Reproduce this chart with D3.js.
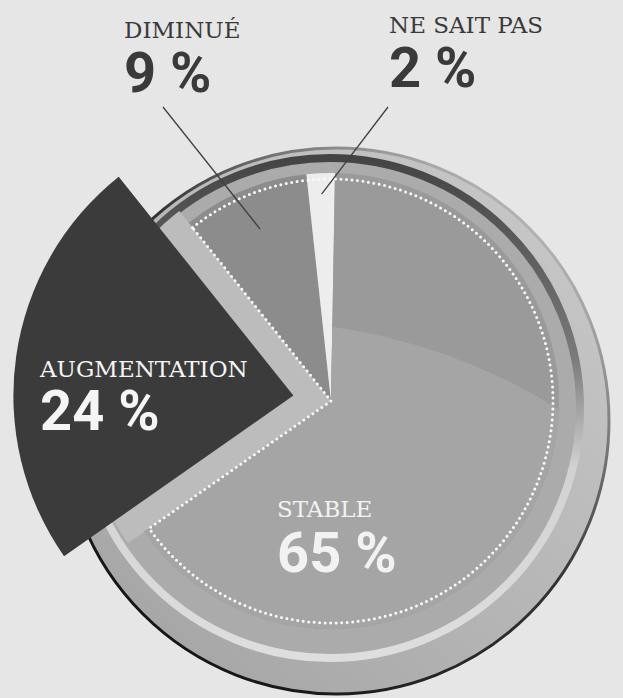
<!DOCTYPE html>
<html>
<head>
<meta charset="utf-8">
<script src="https://cdn.jsdelivr.net/npm/d3@7"></script>
<style>
  html, body { margin: 0; padding: 0; background: #e6e6e6; }
  svg { display: block; }
</style>
</head>
<body>
<div id="chart"></div>
<script>
// données du sondage
const categories  = ["STABLE", "AUGMENTATION", "DIMINUÉ", "NE SAIT PAS"];
const values      = [65, 24, 9, 2];
const valueLabels = ["65 %", "24 %", "9 %", "2 %"];

const width = 623, height = 698;
const cx = 331, cy = 401;     // centre du camembert
const r  = 228;
const deg = a => a * Math.PI / 180;

const color = d3.scaleOrdinal()
  .domain(categories)
  .range(["#a4a4a4", "#3b3b3b", "#8c8c8c", "#ededed"]);

const data = categories.map((c, i) => ({ name: c, value: values[i], label: valueLabels[i] }));

const pie = d3.pie()
  .sort(null)
  .value(d => d.value)
  .startAngle(deg(1))
  .endAngle(deg(361));
const slices = pie(data);
const byName = Object.fromEntries(slices.map(s => [s.data.name, s]));

const svg = d3.select("#chart").append("svg")
  .attr("width", width)
  .attr("height", height)
  .attr("viewBox", [0, 0, width, height]);

svg.append("rect").attr("width", width).attr("height", height).attr("fill", "#e6e6e6");

const defs = svg.append("defs");

// contour du disque extérieur : noir en bas à gauche, clair en haut à droite
const gOuter = defs.append("linearGradient").attr("id", "outerStroke")
  .attr("gradientUnits", "userSpaceOnUse")
  .attr("x1", 120).attr("y1", 660).attr("x2", 560).attr("y2", 180);
gOuter.append("stop").attr("offset", 0).attr("stop-color", "#111");
gOuter.append("stop").attr("offset", 0.55).attr("stop-color", "#333");
gOuter.append("stop").attr("offset", 1).attr("stop-color", "#cfcfcf");

const gOuterFill = defs.append("linearGradient").attr("id", "outerFill")
  .attr("gradientUnits", "userSpaceOnUse")
  .attr("x1", 150).attr("y1", 650).attr("x2", 580).attr("y2", 200);
gOuterFill.append("stop").attr("offset", 0).attr("stop-color", "#a6a6a6");
gOuterFill.append("stop").attr("offset", 1).attr("stop-color", "#c8c8c8");

// bord du socle : sombre en haut, clair en bas
const gBase = defs.append("linearGradient").attr("id", "baseStroke")
  .attr("gradientUnits", "userSpaceOnUse")
  .attr("x1", 0).attr("y1", 158).attr("x2", 0).attr("y2", 658);
gBase.append("stop").attr("offset", 0).attr("stop-color", "#444");
gBase.append("stop").attr("offset", 0.4).attr("stop-color", "#7a7a7a");
gBase.append("stop").attr("offset", 0.62).attr("stop-color", "#d2d2d2");
gBase.append("stop").attr("offset", 1).attr("stop-color", "#dedede");

// disque extérieur
svg.append("circle")
  .attr("cx", 336).attr("cy", 421).attr("r", 273)
  .attr("fill", "url(#outerFill)")
  .attr("stroke", "url(#outerStroke)")
  .attr("stroke-width", 3);

// socle du camembert
defs.append("clipPath").attr("id", "baseClip")
  .append("circle").attr("cx", 330).attr("cy", 408).attr("r", 248);

svg.append("circle")
  .attr("cx", 330).attr("cy", 408).attr("r", 250)
  .attr("fill", "#ababab")
  .attr("stroke", "url(#baseStroke)")
  .attr("stroke-width", 8);

// emplacement vide de la part détachée (sous tout le reste)
const aug = byName["AUGMENTATION"];
svg.append("g").attr("clip-path", "url(#baseClip)")
  .append("path")
  .attr("transform", `translate(${cx},${cy})`)
  .attr("d", d3.arc().innerRadius(0).outerRadius(r + 20)(aug))
  .attr("fill", "#bcbcbc");

const g = svg.append("g").attr("transform", `translate(${cx},${cy})`);

const arc = d3.arc().innerRadius(0).outerRadius(r);

// parts restantes
g.selectAll("path.slice")
  .data(slices.filter(s => s.data.name !== "AUGMENTATION"))
  .join("path")
    .attr("class", "slice")
    .attr("d", arc)
    .attr("fill", d => color(d.data.name));

// léger reflet sur la part « stable »
const stable = byName["STABLE"];
defs.append("clipPath").attr("id", "stableClip")
  .append("path").attr("d", arc(stable));
const shade = g.append("g").attr("clip-path", "url(#stableClip)");
shade.append("rect").attr("x", -r).attr("y", -r).attr("width", 2 * r).attr("height", 2 * r)
  .attr("fill", "#9a9a9a");
shade.append("circle").attr("cx", -80).attr("cy", 500).attr("r", 580)
  .attr("fill", "#a5a5a5");

// pointillés blancs autour des parts restantes
const dim = byName["DIMINUÉ"];
g.append("path")
  .attr("d", d3.arc().innerRadius(0).outerRadius(r - 6)({
    startAngle: dim.startAngle, endAngle: stable.endAngle + 2 * Math.PI
  }))
  .attr("fill", "none")
  .attr("stroke", "#fafafa")
  .attr("stroke-width", 3)
  .attr("stroke-linecap", "round")
  .attr("stroke-dasharray", "0,5.5");

// part détachée « augmentation »
const mid = (aug.startAngle + aug.endAngle) / 2;
const off = 38;
g.append("path")
  .attr("transform", `translate(${Math.sin(mid) * off},${-Math.cos(mid) * off})`)
  .attr("d", d3.arc().innerRadius(0).outerRadius(280)(aug))
  .attr("fill", color("AUGMENTATION"));

// traits de rappel
const leaders = [
  { name: "DIMINUÉ",     from: [163, 107], radius: 186 },
  { name: "NE SAIT PAS", from: [388, 107], radius: 207 }
];
leaders.forEach(l => {
  const p = d3.arc().innerRadius(l.radius).outerRadius(l.radius).centroid(byName[l.name]);
  svg.append("line")
    .attr("x1", l.from[0]).attr("y1", l.from[1])
    .attr("x2", cx + p[0]).attr("y2", cy + p[1])
    .attr("stroke", "#404040")
    .attr("stroke-width", 1.3);
});

// étiquettes
const labelPos = {
  "DIMINUÉ":      { x: 124, y: 38,  y2: 92,  fill: "#3a3a3a" },
  "NE SAIT PAS":  { x: 389, y: 33,  y2: 87,  fill: "#3a3a3a" },
  "AUGMENTATION": { x: 40,  y: 377, y2: 430, fill: "#f5f5f5" },
  "STABLE":       { x: 277, y: 517, y2: 572, fill: "#f2f2f2" }
};

slices.forEach(s => {
  const p = labelPos[s.data.name];
  svg.append("text")
    .attr("x", p.x).attr("y", p.y)
    .attr("fill", p.fill)
    .attr("font-family", "'DejaVu Serif', serif")
    .attr("font-size", 23)
    .text(s.data.name);
  svg.append("text")
    .attr("x", p.x).attr("y", p.y2)
    .attr("fill", p.fill)
    .attr("font-family", "Roboto, sans-serif")
    .attr("font-weight", 700)
    .attr("font-size", 56)
    .text(s.data.label);
});
</script>
</body>
</html>
